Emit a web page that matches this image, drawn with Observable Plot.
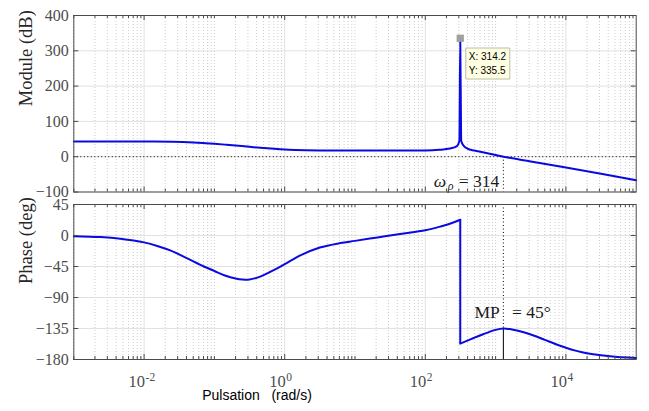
<!DOCTYPE html>
<html>
<head>
<meta charset="utf-8">
<script src="https://cdn.jsdelivr.net/npm/d3@7"></script>
<script src="https://cdn.jsdelivr.net/npm/@observablehq/plot@0.6"></script>
<style>
  html, body { margin: 0; padding: 0; background: #fff; }
  #wrap { position: relative; width: 649px; height: 411px; overflow: hidden; background: #fff; }
  #wrap svg { position: absolute; left: 0; }
</style>
</head>
<body>
<div id="wrap"></div>
<script>
// ---------------- data ----------------
const magOmega = [0.001, 0.00316, 0.01, 0.0251, 0.0501, 0.0708, 0.1, 0.141, 0.2, 0.316, 0.501, 0.708, 1, 1.41, 2, 3.16, 5.62, 10, 31.6, 100, 158, 224, 282, 305.5, 314.2, 323.6, 355, 398, 501, 631, 1000, 1290, 3162, 10000, 31623, 100000];
const magDb    = [43, 43, 42.85, 42.2, 40.3, 38.6, 36.6, 34.2, 31.6, 28, 24.5, 22.2, 20.3, 19.2, 18.5, 17.9, 17.6, 17.5, 17.4, 17.8, 19.5, 23, 30, 45, 335.5, 45, 30, 23, 17.3, 13.2, 4.8, 0, -13.4, -30.5, -48.5, -67];

const phaseOmegaLow = [0.001, 0.0024, 0.0046, 0.01, 0.0158, 0.024, 0.0398, 0.0708, 0.1, 0.141, 0.2, 0.251, 0.316, 0.398, 0.501, 0.708, 1, 1.7, 3.16, 6.17, 10, 20.9, 43.7, 100, 170, 245, 314.2];
const phaseDegLow   = [-1, -2.3, -4.7, -10, -15.5, -22, -32.5, -45, -51.5, -58, -62.5, -64, -63.8, -61.5, -57.5, -50, -41.5, -28.5, -17.5, -11, -7.8, -2.8, 2.2, 7.5, 13.5, 18.5, 22.8];
const phaseOmegaHigh = [314.2, 447, 676, 1000, 1290, 1778, 2512, 3548, 5012, 7079, 10000, 14125, 19953, 31623, 50119, 100000];
const phaseDegHigh   = [-157, -150.5, -143, -137, -135, -136.8, -140.5, -145.5, -151.5, -157.5, -163, -167.5, -171, -174, -176, -177.8];

const magTicks = [400, 300, 200, 100, 0, -100];
const phaseTicks = [45, 0, -45, -90, -135, -180];
const xTickExponents = [-2, 0, 2, 4];
const decades = [-3, -2, -1, 0, 1, 2, 3, 4];

const peak = { omega: 314.2, db: 335.5 };
const crossover = 1290;     // 0 dB crossing
const phaseAtCross = -135;  // MP = 45°

// ---------------- layout ----------------
const W = 649;
const ML = 73.3, MR = 13.3;
const innerW = W - ML - MR;
const xDomain = [1e-3, 1e5];
const blue = "#0a0ae0";
const axisColor = "#4a4a4a";
const tickColor = "#4d4d4d";
const gridMajor = "#e1e1e1";
const gridMinor = "#cdcdcd";
const serif = "Liberation Serif";
const sans = "Liberation Sans";

const majorX = xTickExponents.map(e => 10 ** e);
const minorX = [];
for (const k of decades) for (let m = 1; m <= 9; m++) {
  if (m === 1 && k % 2 === 0) continue;
  minorX.push(m * 10 ** k);
}

const magData = magOmega.map((w, i) => ({ w, v: magDb[i] }));
const phLow = phaseOmegaLow.map((w, i) => ({ w, v: phaseDegLow[i] }));
const phHigh = phaseOmegaHigh.map((w, i) => ({ w, v: phaseDegHigh[i] }));

function gridMarks(yTicks) {
  return [
    Plot.ruleX(minorX, { x: d => d, stroke: gridMinor, strokeDasharray: "1,2" }),
    Plot.ruleX(majorX, { x: d => d, stroke: gridMajor }),
    Plot.ruleY(yTicks, { y: d => d, stroke: gridMajor })
  ];
}
function frameTicks(innerH, yTicks) {
  return [
    Plot.tickX(majorX, { x: d => d, insetTop: innerH - 5, stroke: axisColor }),
    Plot.tickX(majorX, { x: d => d, insetBottom: innerH - 5, stroke: axisColor }),
    Plot.tickX(minorX, { x: d => d, insetTop: innerH - 3, stroke: axisColor }),
    Plot.tickX(minorX, { x: d => d, insetBottom: innerH - 3, stroke: axisColor }),
    Plot.tickY(yTicks, { y: d => d, insetRight: innerW - 5, stroke: axisColor }),
    Plot.tickY(yTicks, { y: d => d, insetLeft: innerW - 5, stroke: axisColor }),
    Plot.frame({ stroke: axisColor })
  ];
}

// ---------------- top panel: magnitude ----------------
const H1 = 197, MT1 = 15, MB1 = H1 - 191.5;
const innerH1 = H1 - MT1 - MB1;
const topPlot = Plot.plot({
  width: W, height: H1,
  marginLeft: ML, marginRight: MR, marginTop: MT1, marginBottom: MB1,
  x: { type: "log", domain: xDomain, axis: null },
  y: { domain: [-100, 400], axis: null },
  style: { background: "transparent", fontFamily: serif, color: "#000", overflow: "visible" },
  marks: [
    ...gridMarks(magTicks),
    Plot.ruleY([0], { y: d => d, stroke: "#000", strokeDasharray: "1,2.5" }),
    Plot.ruleX([crossover], { x: d => d, y1: 0, y2: -100, stroke: "#000", strokeDasharray: "1,2.5" }),
    Plot.line(magData, { x: "w", y: "v", stroke: blue, strokeWidth: 2, curve: "monotone-x", strokeLinejoin: "round" }),
    ...frameTicks(innerH1, magTicks),
    Plot.axisY(magTicks, { anchor: "left", tickSize: 0, tickPadding: 5, fontSize: 16, fontFamily: serif, color: tickColor, label: null }),
    Plot.text(["Module (dB)"], { frameAnchor: "left", dx: -47.3, dy: 2.5, rotate: -90, fontSize: 18.5, fill: "#262626", fontFamily: serif }),
    Plot.dot([peak], { x: "omega", y: "db", symbol: "square", r: 4.1, fill: "#a0a0a0" }),
    Plot.tip([peak], {
      x: "omega", y: "db", title: d => `X: ${d.omega}\nY: ${d.db}`,
      anchor: "top-left", pointerSize: 0, dx: 5.3, dy: 9.5,
      fill: "#ffffe1", stroke: "#bcbca8", pathFilter: "none",
      fontFamily: sans, fontSize: 10, lineHeight: 1.4, textPadding: 3
    }),
    Plot.text([crossover], { x: d => d, y: -100, text: () => "ω", fontStyle: "italic", textAnchor: "start", lineAnchor: "bottom", dx: -69.7, dy: -4.8, fontSize: 17.5, fill: "#1a1a1a", fontFamily: serif }),
    Plot.text([crossover], { x: d => d, y: -100, text: () => "ρ", fontStyle: "italic", textAnchor: "start", lineAnchor: "bottom", dx: -55.5, dy: -2.2, fontSize: 12, fill: "#1a1a1a", fontFamily: serif }),
    Plot.text([crossover], { x: d => d, y: -100, text: () => "= 314", textAnchor: "end", lineAnchor: "bottom", dx: -4, dy: -4.8, fontSize: 17.5, fill: "#1a1a1a", fontFamily: serif })
  ]
});
topPlot.style.top = "0px";

// ---------------- bottom panel: phase ----------------
const TOP2 = 197, H2 = 214, MT2 = 204 - TOP2, MB2 = 411 - 359;
const innerH2 = H2 - MT2 - MB2;
const botPlot = Plot.plot({
  width: W, height: H2,
  marginLeft: ML, marginRight: MR, marginTop: MT2, marginBottom: MB2,
  x: { type: "log", domain: xDomain, axis: null },
  y: { domain: [-180, 45], axis: null },
  style: { background: "transparent", fontFamily: serif, color: "#000", overflow: "visible" },
  marks: [
    ...gridMarks(phaseTicks),
    Plot.ruleY([-180], { y: d => d, stroke: "#000", strokeDasharray: "1,2.5" }),
    Plot.ruleX([crossover], { x: d => d, y1: 45, y2: phaseAtCross, stroke: "#000", strokeDasharray: "1,2.5" }),
    Plot.ruleX([crossover], { x: d => d, y1: phaseAtCross, y2: -180, stroke: "#000", strokeWidth: 1 }),
    Plot.line(phLow, { x: "w", y: "v", stroke: blue, strokeWidth: 2, curve: "catmull-rom" }),
    Plot.ruleX([peak.omega], { x: d => d, y1: phaseDegLow[phaseDegLow.length - 1], y2: phaseDegHigh[0], stroke: blue, strokeWidth: 2 }),
    Plot.line(phHigh, { x: "w", y: "v", stroke: blue, strokeWidth: 2, curve: "catmull-rom" }),
    ...frameTicks(innerH2, phaseTicks),
    Plot.axisY(phaseTicks, { anchor: "left", tickSize: 0, tickPadding: 5, fontSize: 16, fontFamily: serif, color: tickColor, label: null }),
    Plot.text(["Phase (deg)"], { frameAnchor: "left", dx: -47.3, dy: 2, rotate: -90, fontSize: 18.5, fill: "#262626", fontFamily: serif }),
    Plot.text(xTickExponents, { x: e => 10 ** e, frameAnchor: "bottom", text: () => "10", textAnchor: "end", lineAnchor: "bottom", dx: 1, dy: 27.5, fontSize: 16.5, fill: tickColor, fontFamily: serif }),
    Plot.text(xTickExponents, { x: e => 10 ** e, frameAnchor: "bottom", text: e => (e < 0 ? "-" + (-e) : String(e)), textAnchor: "start", lineAnchor: "bottom", dx: 1.5, dy: 21.3, fontSize: 11.5, fill: tickColor, fontFamily: serif }),
    Plot.text(["Pulsation\u00a0\u00a0\u00a0(rad/s)"], { frameAnchor: "bottom-left", textAnchor: "start", lineAnchor: "bottom", dx: 128.4, dy: 40, fontSize: 14, fill: "#000", fontFamily: sans }),
    Plot.text([crossover], { x: d => d, y: phaseAtCross, text: () => "MP", textAnchor: "end", lineAnchor: "bottom", dx: -3.7, dy: -11, fontSize: 17.5, fill: "#1a1a1a", fontFamily: serif }),
    Plot.text([crossover], { x: d => d, y: phaseAtCross, text: () => "= 45°", textAnchor: "start", lineAnchor: "bottom", dx: 8.7, dy: -11, fontSize: 17.5, fill: "#1a1a1a", fontFamily: serif })
  ]
});
botPlot.style.top = TOP2 + "px";

const wrap = document.getElementById("wrap");
wrap.appendChild(topPlot);
wrap.appendChild(botPlot);
</script>
</body>
</html>
